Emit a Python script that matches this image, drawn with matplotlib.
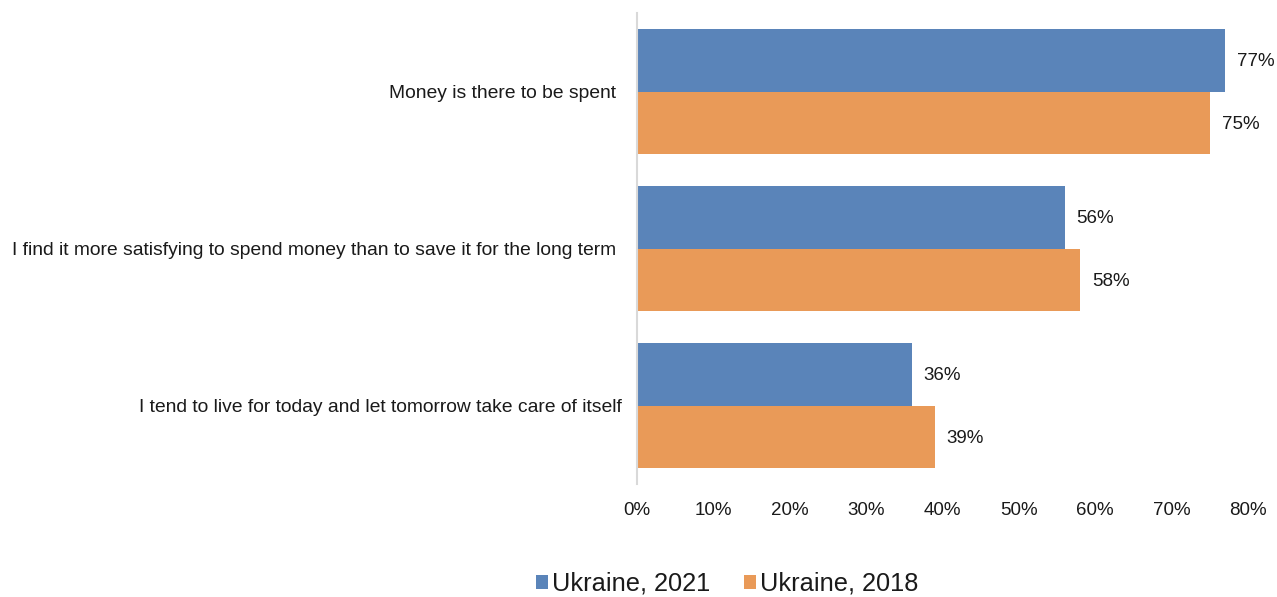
import matplotlib
matplotlib.use("Agg")
import matplotlib.pyplot as plt
from matplotlib import font_manager as fm
import numpy as np
from matplotlib.ticker import PercentFormatter

# Prefer the regular-width Liberation Sans (metric-compatible with Arial)
regular = [f for f in fm.fontManager.ttflist
           if "LiberationSans-Regular" in f.fname.replace(" ", "")]
if regular:
    fm.fontManager.addfont(regular[0].fname)
    family = fm.FontProperties(fname=regular[0].fname).get_name()
else:
    family = "Liberation Sans"
plt.rcParams['font.family'] = [family, 'DejaVu Sans']
plt.rcParams['font.stretch'] = 'normal'

categories = [
    "Money is there to be spent ",
    "I find it more satisfying to spend money than to save it for the long term ",
    "I tend to live for today and let tomorrow take care of itself",
]
series_names = ["Ukraine, 2021", "Ukraine, 2018"]
values_2021 = [77, 56, 36]
values_2018 = [75, 58, 39]
x_ticks = [0, 10, 20, 30, 40, 50, 60, 70, 80]

colors = ["#5A84B9", "#E99A58"]
text_color = "#1a1a1a"

fig = plt.figure(figsize=(12.77, 5.97), dpi=100)
ax = fig.add_axes([637 / 1277, 1 - 484 / 597, (1248 - 637) / 1277, (484 - 13) / 597])

y = np.arange(len(categories))
h = 0.4
b1 = ax.barh(y - h / 2, values_2021, height=h, color=colors[0], label=series_names[0])
b2 = ax.barh(y + h / 2, values_2018, height=h, color=colors[1], label=series_names[1])

for bars, vals in ((b1, values_2021), (b2, values_2018)):
    for bar, v in zip(bars, vals):
        ax.annotate(f"{v}%", xy=(v, bar.get_y() + bar.get_height() / 2),
                    xytext=(8.5, -1), textcoords="offset points",
                    ha="left", va="center", fontsize=13.5, color=text_color)

ax.set_xlim(0, 80)
ax.set_ylim(2.5, -0.5)
ax.set_xticks(x_ticks)
ax.xaxis.set_major_formatter(PercentFormatter(decimals=0))
ax.set_yticks(y)
ax.set_yticklabels(categories)
ax.tick_params(axis="x", length=0, pad=13, labelsize=13.5, labelcolor=text_color)
ax.tick_params(axis="y", length=0, pad=11, labelsize=13.9, labelcolor=text_color)

for s in ("top", "right", "bottom"):
    ax.spines[s].set_visible(False)
ax.spines["left"].set_color("#D9D9D9")
ax.spines["left"].set_linewidth(1.5)

fig.legend(handles=[b1, b2], labels=series_names, loc="center",
           bbox_to_anchor=(727 / 1277, 1 - 584 / 597), ncol=2, frameon=False,
           fontsize=18.3, handlelength=0.47, handleheight=0.47, handletextpad=0.16,
           columnspacing=1.34, labelcolor=text_color)

fig.savefig("out.png", dpi=100)
